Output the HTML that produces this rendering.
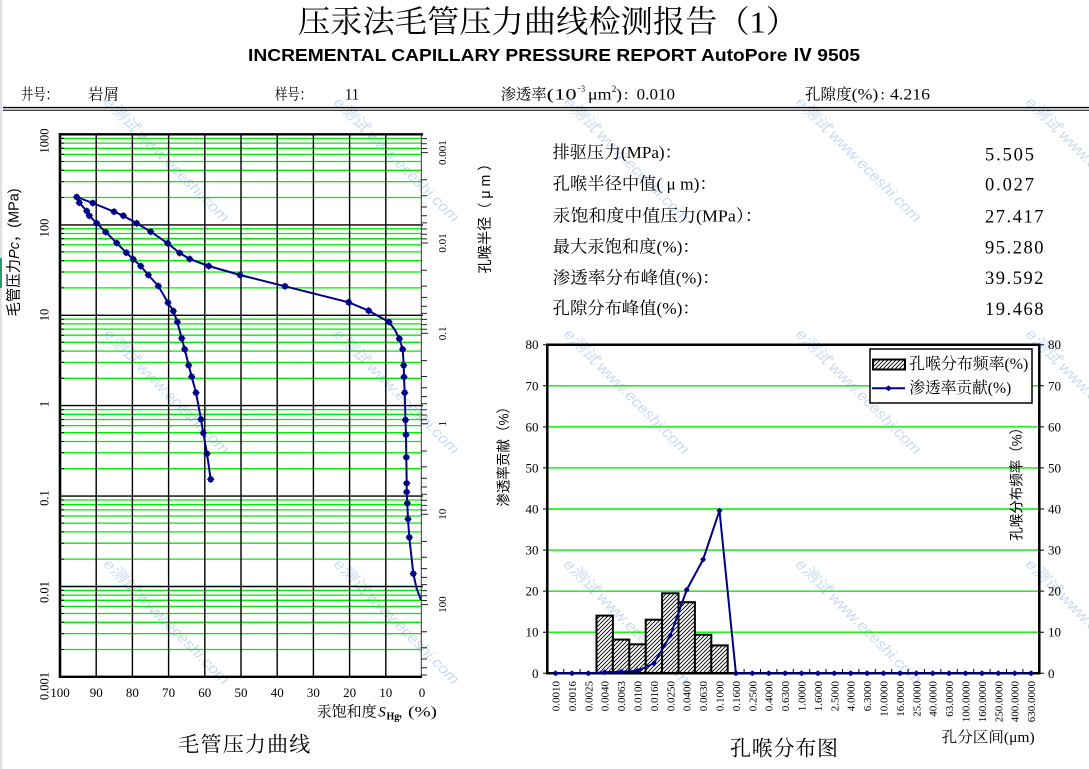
<!DOCTYPE html>
<html><head><meta charset="utf-8"><style>
html,body{margin:0;padding:0;background:#fff;}
svg{display:block;}
text{font-family:"Liberation Serif","Noto Serif CJK SC",serif;fill:#000;}
.cjk{font-family:"Liberation Serif","Noto Serif CJK SC",serif;}
.sans{font-family:"Liberation Sans","Noto Sans CJK SC",sans-serif;}
.wm{font-family:"Liberation Sans","Noto Sans CJK SC",sans-serif;fill:#b9cdee;font-size:15px;font-style:italic;opacity:0.75;}
</style></head><body>
<svg width="1089" height="769" viewBox="0 0 1089 769" xmlns="http://www.w3.org/2000/svg">
<defs>
<pattern id="hatch" patternUnits="userSpaceOnUse" width="4" height="4">
<rect width="4" height="4" fill="#fff"/>
<path d="M-1,1 L1,-1 M0,4 L4,0 M3,5 L5,3" stroke="#000" stroke-width="0.9"/>
</pattern>
<g id="mk"><path d="M0,-3.8 L3.8,0 L0,3.8 L-3.8,0Z"/><rect x="-2.5" y="-2.5" width="5" height="5"/></g>
<g id="mk2"><path d="M0,-3 L3,0 L0,3 L-3,0Z"/><rect x="-1.8" y="-1.8" width="3.6" height="3.6"/></g>
</defs>
<rect width="1089" height="769" fill="#fff"/>
<line x1="1" y1="0" x2="1" y2="769" stroke="#c4cad8" stroke-width="1.2"/>
<rect x="0" y="258" width="2" height="30" fill="#2a9a6a"/>

<!-- watermarks -->
<g>
<text class="wm" transform="translate(103,103) rotate(45)" textLength="170" lengthAdjust="spacingAndGlyphs">e测试 www.eceshi.com</text>
<text class="wm" transform="translate(333,103) rotate(45)" textLength="170" lengthAdjust="spacingAndGlyphs">e测试 www.eceshi.com</text>
<text class="wm" transform="translate(563,103) rotate(45)" textLength="170" lengthAdjust="spacingAndGlyphs">e测试 www.eceshi.com</text>
<text class="wm" transform="translate(795,103) rotate(45)" textLength="170" lengthAdjust="spacingAndGlyphs">e测试 www.eceshi.com</text>
<text class="wm" transform="translate(1025,103) rotate(45)" textLength="170" lengthAdjust="spacingAndGlyphs">e测试 www.eceshi.com</text>
<text class="wm" transform="translate(103,335) rotate(45)" textLength="170" lengthAdjust="spacingAndGlyphs">e测试 www.eceshi.com</text>
<text class="wm" transform="translate(333,335) rotate(45)" textLength="170" lengthAdjust="spacingAndGlyphs">e测试 www.eceshi.com</text>
<text class="wm" transform="translate(563,335) rotate(45)" textLength="170" lengthAdjust="spacingAndGlyphs">e测试 www.eceshi.com</text>
<text class="wm" transform="translate(795,335) rotate(45)" textLength="170" lengthAdjust="spacingAndGlyphs">e测试 www.eceshi.com</text>
<text class="wm" transform="translate(1025,335) rotate(45)" textLength="170" lengthAdjust="spacingAndGlyphs">e测试 www.eceshi.com</text>
<text class="wm" transform="translate(103,565) rotate(45)" textLength="170" lengthAdjust="spacingAndGlyphs">e测试 www.eceshi.com</text>
<text class="wm" transform="translate(333,565) rotate(45)" textLength="170" lengthAdjust="spacingAndGlyphs">e测试 www.eceshi.com</text>
<text class="wm" transform="translate(563,565) rotate(45)" textLength="170" lengthAdjust="spacingAndGlyphs">e测试 www.eceshi.com</text>
<text class="wm" transform="translate(795,565) rotate(45)" textLength="170" lengthAdjust="spacingAndGlyphs">e测试 www.eceshi.com</text>
<text class="wm" transform="translate(1025,565) rotate(45)" textLength="170" lengthAdjust="spacingAndGlyphs">e测试 www.eceshi.com</text>
</g>

<!-- Title -->
<text x="298" y="22" font-size="31" dominant-baseline="central" textLength="500" lengthAdjust="spacingAndGlyphs">压汞法毛管压力曲线检测报告（1）</text>
<text class="sans" x="248" y="55" font-size="17.5" font-weight="bold" dominant-baseline="central" textLength="612" lengthAdjust="spacingAndGlyphs">INCREMENTAL CAPILLARY PRESSURE REPORT AutoPore Ⅳ 9505</text>

<!-- header row -->
<g font-size="15.5" dominant-baseline="central">
<text x="21" y="95" textLength="37" lengthAdjust="spacingAndGlyphs">井号：</text>
<text x="88" y="95" textLength="31" lengthAdjust="spacingAndGlyphs">岩屑</text>
<text x="275" y="95" textLength="37" lengthAdjust="spacingAndGlyphs">样号：</text>
<text x="345" y="95" textLength="14" lengthAdjust="spacingAndGlyphs">11</text>
<text x="500.7" y="95" textLength="46" lengthAdjust="spacingAndGlyphs">渗透率</text>
<text x="546.7" y="95" textLength="30" lengthAdjust="spacingAndGlyphs">(10</text>
<text x="577" y="90" font-size="9.5" textLength="8" lengthAdjust="spacingAndGlyphs">−3</text>
<text x="588" y="95" textLength="23.5" lengthAdjust="spacingAndGlyphs">μm</text>
<text x="611.7" y="90" font-size="9.5" textLength="4.5" lengthAdjust="spacingAndGlyphs">2</text>
<text x="616" y="95" textLength="6" lengthAdjust="spacingAndGlyphs">)</text>
<text x="624" y="95">:</text>
<text x="636.7" y="95" textLength="38.3" lengthAdjust="spacingAndGlyphs">0.010</text>
<text x="805" y="95" textLength="46.7" lengthAdjust="spacingAndGlyphs">孔隙度</text>
<text x="851.7" y="95" textLength="26.6" lengthAdjust="spacingAndGlyphs">(%)</text>
<text x="880.5" y="95">:</text>
<text x="890" y="95" textLength="40" lengthAdjust="spacingAndGlyphs">4.216</text>
</g>
<line x1="3" y1="107.6" x2="1089" y2="107.6" stroke="#000" stroke-width="1.4"/>
<line x1="3" y1="110.2" x2="1089" y2="110.2" stroke="#000" stroke-width="1"/>

<!-- ================= LEFT CHART ================= -->
<!-- green minor lines -->
<path stroke="#00ee00" stroke-width="1.3" fill="none" d="
M62 138.4H421M62 143.1H421M62 148.3H421M62 154.4H421M62 161.5H421M62 170.3H421M62 181.6H421M62 197.5H421
M62 228.8H421M62 233.5H421M62 238.7H421M62 244.8H421M62 251.9H421M62 260.7H421M62 272.0H421M62 287.9H421
M62 319.2H421M62 323.9H421M62 329.1H421M62 335.2H421M62 342.3H421M62 351.1H421M62 362.4H421M62 378.3H421
M62 409.6H421M62 414.3H421M62 419.5H421M62 425.6H421M62 432.7H421M62 441.5H421M62 452.8H421M62 468.7H421
M62 500.0H421M62 504.7H421M62 509.9H421M62 516.0H421M62 523.1H421M62 531.9H421M62 543.2H421M62 559.1H421
M62 590.4H421M62 595.1H421M62 600.3H421M62 606.4H421M62 613.5H421M62 622.3H421M62 633.6H421M62 649.5H421"/>
<!-- left inside ticks -->
<path stroke="#000" stroke-width="1" fill="none" d="
M60 138.4H64M60 143.1H64M60 148.3H64M60 154.4H64M60 161.5H64M60 170.3H64M60 181.6H64M60 197.5H64
M60 228.8H64M60 233.5H64M60 238.7H64M60 244.8H64M60 251.9H64M60 260.7H64M60 272.0H64M60 287.9H64
M60 319.2H64M60 323.9H64M60 329.1H64M60 335.2H64M60 342.3H64M60 351.1H64M60 362.4H64M60 378.3H64
M60 409.6H64M60 414.3H64M60 419.5H64M60 425.6H64M60 432.7H64M60 441.5H64M60 452.8H64M60 468.7H64
M60 500.0H64M60 504.7H64M60 509.9H64M60 516.0H64M60 523.1H64M60 531.9H64M60 543.2H64M60 559.1H64
M60 590.4H64M60 595.1H64M60 600.3H64M60 606.4H64M60 613.5H64M60 622.3H64M60 633.6H64M60 649.5H64"/>
<!-- black decade lines -->
<path stroke="#000" stroke-width="1.4" fill="none" d="M60 224.9H423M60 315.3H423M60 405.6H423M60 496.1H423M60 586.5H423"/>
<!-- vertical grid -->
<path stroke="#000" stroke-width="1.4" fill="none" d="M96.2 134.3V676.7M132.4 134.3V676.7M168.6 134.3V676.7M204.8 134.3V676.7M241 134.3V676.7M277.2 134.3V676.7M313.4 134.3V676.7M349.6 134.3V676.7M385.8 134.3V676.7"/>
<!-- right axis -->
<line x1="421.3" y1="134.3" x2="421.3" y2="676.7" stroke="#333" stroke-width="1"/>
<path stroke="#222" stroke-width="1" fill="none" d="
M421 138.6H427M421 143.8H427M421 148.5H427M421 152.6H428
M421 179.8H427M421 195.7H427M421 207.0H427M421 215.8H427M421 222.9H427M421 229.0H427M421 234.2H427M421 238.9H427M421 243.0H428
M421 270.2H427M421 286.1H427M421 297.4H427M421 306.2H427M421 313.4H427M421 319.4H427M421 324.6H427M421 329.3H427M421 333.4H428
M421 360.6H427M421 376.5H427M421 387.8H427M421 396.6H427M421 403.8H427M421 409.8H427M421 415.0H427M421 419.7H427M421 423.8H428
M421 451.0H427M421 466.9H427M421 478.2H427M421 487.0H427M421 494.2H427M421 500.2H427M421 505.4H427M421 510.1H427M421 514.2H428
M421 541.4H427M421 557.3H427M421 568.6H427M421 577.4H427M421 584.6H427M421 590.6H427M421 595.8H427M421 600.5H427M421 604.6H428
M421 631.8H427M421 647.7H427M421 659.0H427M421 667.8H427M421 675.0H427"/>
<!-- frame -->
<line x1="59" y1="134.3" x2="423" y2="134.3" stroke="#000" stroke-width="2.4"/>
<line x1="60" y1="133" x2="60" y2="678" stroke="#000" stroke-width="2.6"/>
<line x1="59" y1="676.8" x2="422" y2="676.8" stroke="#000" stroke-width="2.4"/>

<!-- curves -->
<polyline fill="none" stroke="#000088" stroke-width="2" stroke-linejoin="round" points="421,600 416.5,588 413.3,573.7 409.3,537.3 408,519 407.3,503.3 406.7,492 406.7,483.3 406.3,457.3 406,434.7 405.5,420 404.7,392.7 404,377 403.7,365.3 402.7,349.3 399.3,338.7 395,330 389,322 368.7,310.7 348.7,302.3 285,286.3 240,275 208.7,266 189.7,259 179.7,253 167.7,243.3 150.7,231.7 136.7,223.3 123.3,215.7 114,211.7 92.7,203 76.7,197"/>
<polyline fill="none" stroke="#000088" stroke-width="2" stroke-linejoin="round" points="76.7,197 79.3,202.7 86.7,211 89.3,215.7 96.7,223.3 105.7,232 116.7,243 126.3,252.7 133.3,259.3 140.7,266 148.3,275 158.3,286 168,302.7 173.3,311 177.3,322 181.7,338.3 184.7,349.3 188.7,365.3 191.7,376.7 196,392.7 201,419.3 203.3,433 207,453.7 210.7,479.3"/>
<g fill="#000088">
<use href="#mk" x="413.3" y="573.7"/><use href="#mk" x="409.3" y="537.3"/><use href="#mk" x="408" y="519"/><use href="#mk" x="407.3" y="503.3"/><use href="#mk" x="406.7" y="492"/><use href="#mk" x="406.7" y="483.3"/><use href="#mk" x="406.3" y="457.3"/><use href="#mk" x="406" y="434.7"/><use href="#mk" x="405.5" y="420"/><use href="#mk" x="404.7" y="392.7"/><use href="#mk" x="404" y="377"/><use href="#mk" x="403.7" y="365.3"/><use href="#mk" x="402.7" y="349.3"/><use href="#mk" x="399.3" y="338.7"/><use href="#mk" x="389" y="322"/><use href="#mk" x="368.7" y="310.7"/><use href="#mk" x="348.7" y="302.3"/><use href="#mk" x="285" y="286.3"/><use href="#mk" x="240" y="275"/><use href="#mk" x="208.7" y="266"/><use href="#mk" x="189.7" y="259"/><use href="#mk" x="179.7" y="253"/><use href="#mk" x="167.7" y="243.3"/><use href="#mk" x="150.7" y="231.7"/><use href="#mk" x="136.7" y="223.3"/><use href="#mk" x="123.3" y="215.7"/><use href="#mk" x="114" y="211.7"/><use href="#mk" x="92.7" y="203"/><use href="#mk" x="76.7" y="197"/>
<use href="#mk" x="79.3" y="202.7"/><use href="#mk" x="86.7" y="211"/><use href="#mk" x="89.3" y="215.7"/><use href="#mk" x="96.7" y="223.3"/><use href="#mk" x="105.7" y="232"/><use href="#mk" x="116.7" y="243"/><use href="#mk" x="126.3" y="252.7"/><use href="#mk" x="133.3" y="259.3"/><use href="#mk" x="140.7" y="266"/><use href="#mk" x="148.3" y="275"/><use href="#mk" x="158.3" y="286"/><use href="#mk" x="168" y="302.7"/><use href="#mk" x="173.3" y="311"/><use href="#mk" x="177.3" y="322"/><use href="#mk" x="181.7" y="338.3"/><use href="#mk" x="184.7" y="349.3"/><use href="#mk" x="188.7" y="365.3"/><use href="#mk" x="191.7" y="376.7"/><use href="#mk" x="196" y="392.7"/><use href="#mk" x="201" y="419.3"/><use href="#mk" x="203.3" y="433"/><use href="#mk" x="207" y="453.7"/><use href="#mk" x="210.7" y="479.3"/>
</g>

<!-- left y labels -->
<g font-size="12.5" text-anchor="middle" dominant-baseline="central">
<text transform="translate(44.5,141) rotate(-90)">1000</text>
<text transform="translate(44.5,228) rotate(-90)">100</text>
<text transform="translate(44.5,315) rotate(-90)">10</text>
<text transform="translate(44.5,404) rotate(-90)">1</text>
<text transform="translate(44.5,498) rotate(-90)">0.1</text>
<text transform="translate(44.5,592) rotate(-90)">0.01</text>
<text transform="translate(44.5,686) rotate(-90)">0.001</text>
</g>
<!-- right r labels -->
<g font-size="11" text-anchor="middle" dominant-baseline="central">
<text transform="translate(443,152.6) rotate(-90)">0.001</text>
<text transform="translate(443,243) rotate(-90)">0.01</text>
<text transform="translate(443,333.4) rotate(-90)">0.1</text>
<text transform="translate(443,423.8) rotate(-90)">1</text>
<text transform="translate(443,514.2) rotate(-90)">10</text>
<text transform="translate(443,604.6) rotate(-90)">100</text>
</g>
<!-- x labels -->
<g font-size="13" text-anchor="middle" dominant-baseline="central">
<text x="60" y="692.7">100</text><text x="96.2" y="692.7">90</text><text x="132.4" y="692.7">80</text><text x="168.6" y="692.7">70</text><text x="204.8" y="692.7">60</text><text x="241" y="692.7">50</text><text x="277.2" y="692.7">40</text><text x="313.4" y="692.7">30</text><text x="349.6" y="692.7">20</text><text x="385.8" y="692.7">10</text><text x="422" y="692.7">0</text>
</g>
<!-- axis titles -->
<text class="sans" transform="translate(14,252.5) rotate(-90)" font-size="15" text-anchor="middle" dominant-baseline="central" textLength="128" lengthAdjust="spacingAndGlyphs">毛管压力<tspan font-style="italic">Pc</tspan>，(MPa)</text>
<text class="sans" transform="translate(486,215) rotate(-90)" font-size="14.5" text-anchor="middle" dominant-baseline="central" textLength="117" lengthAdjust="spacingAndGlyphs">孔喉半径（ μ m ）</text>
<g font-size="15" dominant-baseline="central">
<text x="316.7" y="712.3" textLength="60" lengthAdjust="spacingAndGlyphs">汞饱和度</text>
<text x="378.3" y="712.3" font-style="italic">S</text>
<text x="386.5" y="717" font-size="10" font-weight="bold">Hg</text>
<text x="398" y="712.3">，</text>
<text x="408" y="712.3" textLength="29" lengthAdjust="spacingAndGlyphs">(%)</text>
</g>
<text x="178.3" y="744.3" font-size="21" dominant-baseline="central" textLength="132" lengthAdjust="spacing">毛管压力曲线</text>

<!-- ================= STATS ================= -->
<g font-size="17" dominant-baseline="central">
<text x="552.7" y="152.5" textLength="129" lengthAdjust="spacingAndGlyphs">排驱压力(MPa)：</text>
<text x="552.7" y="184" textLength="164" lengthAdjust="spacingAndGlyphs">孔喉半径中值( μ m)：</text>
<text x="552.7" y="216" textLength="210" lengthAdjust="spacingAndGlyphs">汞饱和度中值压力(MPa）：</text>
<text x="552.7" y="247" textLength="147" lengthAdjust="spacingAndGlyphs">最大汞饱和度(%)：</text>
<text x="552.7" y="278" textLength="167" lengthAdjust="spacingAndGlyphs">渗透率分布峰值(%)：</text>
<text x="552.7" y="308.5" textLength="147" lengthAdjust="spacingAndGlyphs">孔隙分布峰值(%)：</text>
</g>
<g font-size="18.5" dominant-baseline="central">
<text x="985" y="155.5" textLength="49" lengthAdjust="spacing">5.505</text>
<text x="985" y="185.5" textLength="49" lengthAdjust="spacing">0.027</text>
<text x="985" y="217.5" textLength="58.5" lengthAdjust="spacing">27.417</text>
<text x="985" y="248.3" textLength="58.5" lengthAdjust="spacing">95.280</text>
<text x="985" y="279" textLength="58.5" lengthAdjust="spacing">39.592</text>
<text x="985" y="310" textLength="58.5" lengthAdjust="spacing">19.468</text>
</g>

<!-- ================= BAR CHART ================= -->
<path stroke="#00ee00" stroke-width="1.4" fill="none" d="M548 385.8H1039M548 426.85H1039M548 467.9H1039M548 509.0H1039M548 550.1H1039M548 591.15H1039M548 632.2H1039"/>
<path stroke="#000" stroke-width="1" fill="none" d="M1039.3 344.7H1044M1039.3 385.8H1044M1039.3 426.85H1044M1039.3 467.9H1044M1039.3 509H1044M1039.3 550.1H1044M1039.3 591.15H1044M1039.3 632.2H1044M1039.3 673.3H1044
M543 344.7H547M543 385.8H547M543 426.85H547M543 467.9H547M543 509H547M543 550.1H547M543 591.15H547M543 632.2H547M543 673.3H547"/>
<!-- bars -->
<g fill="url(#hatch)" stroke="#000" stroke-width="2">
<rect x="596.5" y="615.6" width="16.4" height="57.7"/>
<rect x="612.9" y="639.6" width="16.4" height="33.7"/>
<rect x="629.3" y="644.3" width="16.4" height="29"/>
<rect x="645.7" y="619.7" width="16.4" height="53.6"/>
<rect x="662.1" y="593.3" width="16.4" height="80"/>
<rect x="678.5" y="602.2" width="16.4" height="71.1"/>
<rect x="694.9" y="634.7" width="16.4" height="38.6"/>
<rect x="711.3" y="645.4" width="16.4" height="27.9"/>
</g>
<!-- frame -->
<line x1="546" y1="344.7" x2="1040.5" y2="344.7" stroke="#000" stroke-width="2.5"/>
<line x1="547.3" y1="343.5" x2="547.3" y2="674.5" stroke="#000" stroke-width="2.5"/>
<line x1="1039.3" y1="343.5" x2="1039.3" y2="674.5" stroke="#000" stroke-width="2.5"/>
<line x1="546" y1="673.3" x2="1040.5" y2="673.3" stroke="#000" stroke-width="2.5"/>
<path stroke="#000" stroke-width="1" fill="none" d="M563.7 673V669M580.1 673V669M596.5 673V669M612.9 673V669M629.3 673V669M645.7 673V669M662.1 673V669M678.5 673V669M694.9 673V669M711.3 673V669M727.7 673V669M744.1 673V669M760.5 673V669M776.9 673V669M793.3 673V669M809.7 673V669M826.1 673V669M842.5 673V669M858.9 673V669M875.3 673V669M891.7 673V669M908.1 673V669M924.5 673V669M940.9 673V669M957.3 673V669M973.7 673V669M990.1 673V669M1006.5 673V669M1022.9 673V669"/>
<!-- line series -->
<polyline fill="none" stroke="#000088" stroke-width="2" stroke-linejoin="round" points="555.5,673.3 571.9,673.3 588.3,673.3 604.7,672.3 621.1,671.7 637.5,670.8 653.9,663.4 670.3,635.5 686.7,589.9 703.1,559.5 719.5,510.6 735.9,673.3 752.3,673.3 768.7,673.3 785.1,673.3 801.5,673.3 817.9,673.3 834.3,673.3 850.7,673.3 867.1,673.3 883.5,673.3 899.9,673.3 916.3,673.3 932.7,673.3 949.1,673.3 965.5,673.3 981.9,673.3 998.3,673.3 1014.7,673.3 1031.1,673.3"/>
<g fill="#000088">
<use href="#mk2" x="555.5" y="673.3"/><use href="#mk2" x="571.9" y="673.3"/><use href="#mk2" x="588.3" y="673.3"/><use href="#mk2" x="604.7" y="672.3"/><use href="#mk2" x="621.1" y="671.7"/><use href="#mk2" x="637.5" y="670.8"/><use href="#mk2" x="653.9" y="663.4"/><use href="#mk2" x="670.3" y="635.5"/><use href="#mk2" x="686.7" y="589.9"/><use href="#mk2" x="703.1" y="559.5"/><use href="#mk2" x="719.5" y="510.6"/><use href="#mk2" x="735.9" y="673.3"/><use href="#mk2" x="752.3" y="673.3"/><use href="#mk2" x="768.7" y="673.3"/><use href="#mk2" x="785.1" y="673.3"/><use href="#mk2" x="801.5" y="673.3"/><use href="#mk2" x="817.9" y="673.3"/><use href="#mk2" x="834.3" y="673.3"/><use href="#mk2" x="850.7" y="673.3"/><use href="#mk2" x="867.1" y="673.3"/><use href="#mk2" x="883.5" y="673.3"/><use href="#mk2" x="899.9" y="673.3"/><use href="#mk2" x="916.3" y="673.3"/><use href="#mk2" x="932.7" y="673.3"/><use href="#mk2" x="949.1" y="673.3"/><use href="#mk2" x="965.5" y="673.3"/><use href="#mk2" x="981.9" y="673.3"/><use href="#mk2" x="998.3" y="673.3"/><use href="#mk2" x="1014.7" y="673.3"/><use href="#mk2" x="1031.1" y="673.3"/>
</g>
<!-- legend -->
<rect x="870" y="349" width="162" height="54" fill="#fff" stroke="#000" stroke-width="1.5"/>
<rect x="873" y="359.5" width="32" height="10" fill="url(#hatch)" stroke="#000" stroke-width="2"/>
<line x1="872" y1="388.3" x2="905" y2="388.3" stroke="#000088" stroke-width="2"/>
<use href="#mk2" x="888.5" y="388.3" fill="#000088"/>
<text x="909.3" y="364.3" font-size="16" dominant-baseline="central" textLength="119" lengthAdjust="spacingAndGlyphs">孔喉分布频率(%)</text>
<text x="909.3" y="388.3" font-size="16" dominant-baseline="central" textLength="102" lengthAdjust="spacingAndGlyphs">渗透率贡献(%)</text>
<!-- bar y labels -->
<g font-size="13" text-anchor="end" dominant-baseline="central">
<text x="538.5" y="344.7">80</text><text x="538.5" y="385.8">70</text><text x="538.5" y="426.85">60</text><text x="538.5" y="467.9">50</text><text x="538.5" y="509">40</text><text x="538.5" y="550.1">30</text><text x="538.5" y="591.15">20</text><text x="538.5" y="632.2">10</text><text x="538.5" y="673.3">0</text>
</g>
<g font-size="13" dominant-baseline="central">
<text x="1048" y="344.7">80</text><text x="1048" y="385.8">70</text><text x="1048" y="426.85">60</text><text x="1048" y="467.9">50</text><text x="1048" y="509">40</text><text x="1048" y="550.1">30</text><text x="1048" y="591.15">20</text><text x="1048" y="632.2">10</text><text x="1048" y="673.3">0</text>
</g>
<text class="sans" transform="translate(503.7,453.3) rotate(-90)" font-size="14" text-anchor="middle" dominant-baseline="central" textLength="106.7" lengthAdjust="spacingAndGlyphs">渗透率贡献（%）</text>
<text class="sans" transform="translate(1016.7,480.7) rotate(-90)" font-size="14" text-anchor="middle" dominant-baseline="central" textLength="120" lengthAdjust="spacingAndGlyphs">孔喉分布频率（%）</text>
<!-- category labels -->
<g font-size="11" text-anchor="end">
<text transform="translate(559.5,681) rotate(-90)">0.0010</text>
<text transform="translate(575.9,681) rotate(-90)">0.0016</text>
<text transform="translate(592.3,681) rotate(-90)">0.0025</text>
<text transform="translate(608.7,681) rotate(-90)">0.0040</text>
<text transform="translate(625.1,681) rotate(-90)">0.0063</text>
<text transform="translate(641.5,681) rotate(-90)">0.0100</text>
<text transform="translate(657.9,681) rotate(-90)">0.0160</text>
<text transform="translate(674.3,681) rotate(-90)">0.0250</text>
<text transform="translate(690.7,681) rotate(-90)">0.0400</text>
<text transform="translate(707.1,681) rotate(-90)">0.0630</text>
<text transform="translate(723.5,681) rotate(-90)">0.1000</text>
<text transform="translate(739.9,681) rotate(-90)">0.1600</text>
<text transform="translate(756.3,681) rotate(-90)">0.2500</text>
<text transform="translate(772.7,681) rotate(-90)">0.4000</text>
<text transform="translate(789.1,681) rotate(-90)">0.6300</text>
<text transform="translate(805.5,681) rotate(-90)">1.0000</text>
<text transform="translate(821.9,681) rotate(-90)">1.6000</text>
<text transform="translate(838.3,681) rotate(-90)">2.5000</text>
<text transform="translate(854.7,681) rotate(-90)">4.0000</text>
<text transform="translate(871.1,681) rotate(-90)">6.3000</text>
<text transform="translate(887.5,681) rotate(-90)">10.0000</text>
<text transform="translate(903.9,681) rotate(-90)">16.0000</text>
<text transform="translate(920.3,681) rotate(-90)">25.0000</text>
<text transform="translate(936.7,681) rotate(-90)">40.0000</text>
<text transform="translate(953.1,681) rotate(-90)">63.0000</text>
<text transform="translate(969.5,681) rotate(-90)">100.0000</text>
<text transform="translate(985.9,681) rotate(-90)">160.0000</text>
<text transform="translate(1002.3,681) rotate(-90)">250.0000</text>
<text transform="translate(1018.7,681) rotate(-90)">400.0000</text>
<text transform="translate(1035.1,681) rotate(-90)">630.0000</text>
</g>
<text x="941.7" y="738" font-size="15" dominant-baseline="central" textLength="93" lengthAdjust="spacingAndGlyphs">孔分区间(μm)</text>
<text x="730" y="748.3" font-size="21" dominant-baseline="central" textLength="108" lengthAdjust="spacing">孔喉分布图</text>
</svg>
</body></html>
